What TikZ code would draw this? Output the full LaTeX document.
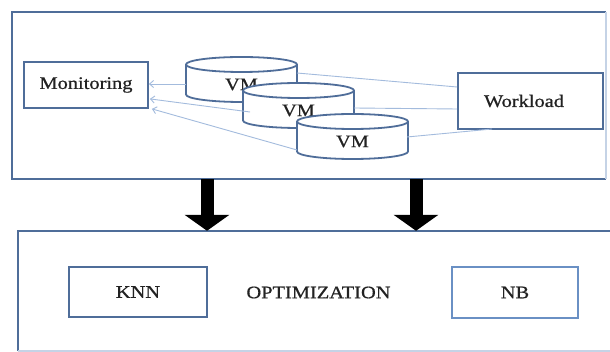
\documentclass[tikz,border=0pt]{standalone}
\usepackage{fontspec}
\setmainfont{Liberation Serif}[FakeStretch=1.16,FakeBold=0.7]
\usetikzlibrary{arrows.meta,calc}
\definecolor{edge}{HTML}{4F6D99}
\definecolor{nbedge}{HTML}{6A90C4}
\definecolor{faint}{HTML}{C5D3E6}
\definecolor{conn}{HTML}{A3BBDD}
\definecolor{ink}{HTML}{222222}
\tikzset{
  txt/.style={inner sep=0pt, text=ink, font=\fontsize{17.6pt}{20pt}\selectfont},
  box/.style={draw=edge, line width=1.8pt, fill=white, inner sep=0pt, text=ink, font=\fontsize{17.6pt}{20pt}\selectfont},
  outer/.style={draw=edge, line width=1.8pt},
  outerfaint/.style={draw=faint, line width=1.5pt},
  cylbody/.style={draw=edge, line width=1.8pt, fill=white},
  conn/.style={draw=conn, line width=0.9pt},
  connarrow/.style={draw=conn, line width=0.9pt, -{Straight Barb[length=4pt,width=7pt]}},
  fat/.style={line width=13pt, draw=black, -{Triangle[width=44pt,length=16pt]}},
}
\newcommand\vmcyl[3]{%
  \path[cylbody] (#2,-#3-7.5) -- (#2,-#3-37.5)
     arc[start angle=180,end angle=360,x radius=55.5pt,y radius=7.5pt]
     -- (#2+111,-#3-7.5)
     arc[start angle=0,end angle=180,x radius=55.5pt,y radius=7.5pt] -- cycle;
  \draw[edge, line width=1.8pt] (#2,-#3-7.5)
     arc[start angle=180,end angle=360,x radius=55.5pt,y radius=7.5pt];
  \node[txt] (#1) at (#2+55.5,-#3-27.5) {VM};
}
\begin{document}
\begin{tikzpicture}[x=1pt,y=1pt]
\useasboundingbox (0,0) rectangle (610,-352);
\clip (0,0) rectangle (610,-352);
\fill[white] (0,0) rectangle (610,-352);

% outer boxes
\node[minimum width=594pt, minimum height=167pt, inner sep=0pt] (top) at (309,-95.5) {};
\draw[outer] (top.north east) -- (top.north west) -- (top.south west) -- (top.south east);
\draw[outerfaint] (top.north east) -- (top.south east);

\node[minimum width=598pt, minimum height=120pt, inner sep=0pt] (bot) at (317,-291) {};
\draw[outer] (bot.south west) -- (bot.north west) -- (bot.north east);
\draw[outerfaint] (bot.south west) -- (bot.south east);

% top contents
\node[box, minimum width=124pt, minimum height=46pt] (mon) at (86,-85) {Monitoring};
\node[box, minimum width=145pt, minimum height=56pt] (wl) at (530.5,-101) {};
\node[txt] (wlt) at (524,-101) {Workload};

\vmcyl{vm1}{186}{57}
\vmcyl{vm2}{243}{83}
\vmcyl{vm3}{297}{114}

% connector end points
\coordinate (a1) at (186,-84);
\coordinate (a2) at (250,-112);
\coordinate (a3) at (297,-150);
\coordinate (m1) at ($(mon.east)+(0,1)$);
\coordinate (m2) at ($(mon.south east)+(1,10)$);
\coordinate (m3) at ($(mon.south east)+(3,0)$);
\coordinate (b1) at (297,-73);
\coordinate (b2) at (354,-108);
\coordinate (b3) at (407,-137);
\coordinate (w3) at (492,-129);

\draw[connarrow] (a1) -- (m1);
\draw[connarrow] (a2) -- (m2);
\draw[connarrow] (a3) -- (m3);
\draw[conn] (b1) -- (wl.west |- 0,-87);
\draw[conn] (b2) -- (wl.west |- 0,-109);
\draw[conn] (b3) -- (w3);

% fat arrows
\coordinate (f1) at (207,0);
\coordinate (f2) at (416,0);
\draw[fat] (top.south -| f1) -- (bot.north -| f1);
\draw[fat] (top.south -| f2) -- (bot.north -| f2);

% bottom contents
\node[box, minimum width=138pt, minimum height=50pt] (knn) at (138,-292) {KNN};
\node[txt] (opt) at (318.5,-292.5) {OPTIMIZATION};
\node[box, draw=nbedge, minimum width=126pt, minimum height=51pt] (nb) at (515,-292.5) {NB};
\end{tikzpicture}
\end{document}
